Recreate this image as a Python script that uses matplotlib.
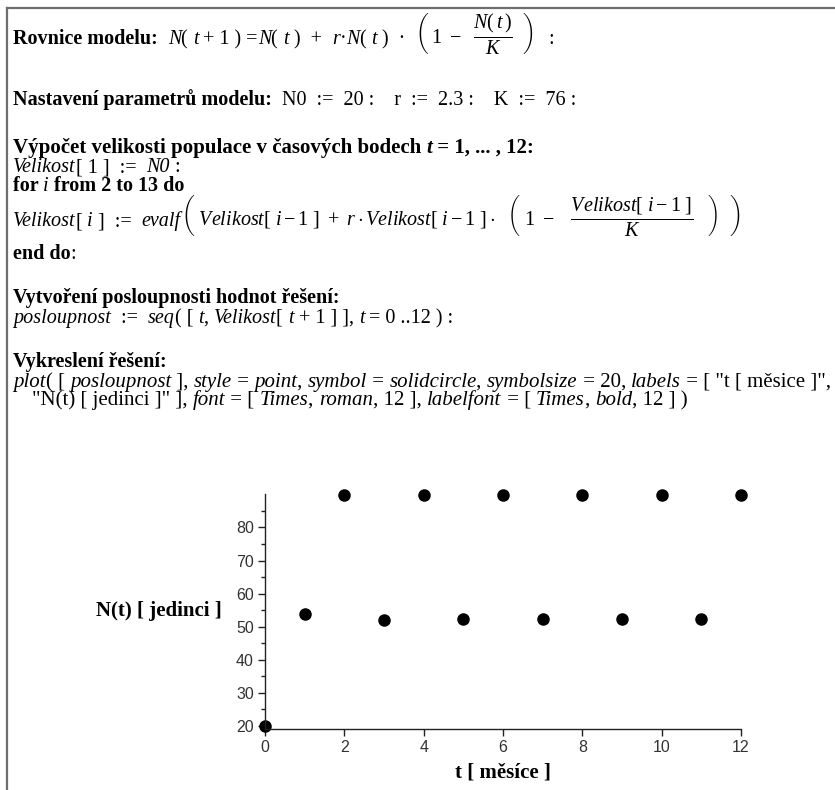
import matplotlib
matplotlib.use('Agg')
import matplotlib.pyplot as plt
from matplotlib.lines import Line2D

# data
t_months = [0, 1, 2, 3, 4, 5, 6, 7, 8, 9, 10, 11, 12]
n_pop = [20, 53.9, 89.9, 52.0, 89.9, 52.4, 89.9, 52.4, 89.9, 52.4, 89.9, 52.4, 89.9]
x_ticks = [0, 2, 4, 6, 8, 10, 12]
y_ticks = [20, 30, 40, 50, 60, 70, 80]
x_label = "t [ měsíce ]"
y_label = "N(t) [ jedinci ]"

SERIF = 'Liberation Serif'
plt.rcParams['mathtext.fontset'] = 'custom'
plt.rcParams['mathtext.rm'] = 'Liberation Serif'
plt.rcParams['mathtext.it'] = 'Liberation Serif:italic'
plt.rcParams['mathtext.bf'] = 'Liberation Serif:bold'

W, H = 835, 790
fig = plt.figure(figsize=(W / 100, H / 100), dpi=100)
rend = fig.canvas.get_renderer()

STYLES = {
    'b': dict(family=SERIF, weight='bold'),
    'i': dict(family=SERIF, style='italic'),
    'r': dict(family=SERIF),
    'bi': dict(family=SERIF, weight='bold', style='italic'),
    'm': dict(family=SERIF),
}
FS = 14.5


def advance(txt, st, size):
    # width incl. trailing spaces (measure against a sentinel char)
    t = fig.text(0, 0, txt + '|', fontsize=size, **STYLES[st])
    w1 = t.get_window_extent(rend).width
    t.set_text('|')
    w2 = t.get_window_extent(rend).width
    t.remove()
    return w1 - w2


def line(x, y, pieces, size=FS):
    for txt, st in pieces:
        t = fig.text(x / W, 1 - y / H, txt, fontsize=size, va='baseline',
                     ha='left', color='black', **STYLES[st])
        if st == 'm':
            x += t.get_window_extent(rend).width
        else:
            x += advance(txt, st, size)


# worksheet text
line(13, 44, [("Rovnice modelu:  ", 'b'),
              ("N", 'i'), ("( ", 'r'), ("t", 'i'), (" + 1 ) =", 'r'), ("N", 'i'), ("( ", 'r'),
              ("t", 'i'), (" )  +  ", 'r'), ("r", 'i'), ("·", 'r'), ("N", 'i'), ("( ", 'r'),
              ("t", 'i'), (" )  ·  ", 'r'),
              (r"$\left(\;1\ -\ \ \dfrac{N(\,t\,)}{K}\ \;\right)$", 'm'), ("   :", 'r')])
line(13, 105, [("Nastavení parametrů modelu:  ", 'b'),
               ("N0  :=  20 :    r  :=  2.3 :    K  :=  76 :", 'r')])
line(13, 153, [("Výpočet velikosti populace v časových bodech ", 'b'), ("t", 'bi'),
               (" = 1, ... , 12:", 'b')], size=15)
line(13, 172, [("Velikost", 'i'), ("[ 1 ]  :=  ", 'r'), ("N0", 'i'), (" :", 'r')])
line(13, 191, [("for ", 'b'), ("i", 'i'), (" from 2 to 13 do", 'b')])
line(13, 226, [("Velikost", 'i'), ("[ ", 'r'), ("i", 'i'), (" ]  :=  ", 'r'), ("evalf", 'i'),
               (r"$\left(\ \mathit{Velikost}[\ i-1\ ]\ +\ r\cdot\mathit{Velikost}[\ i-1\ ]\cdot\ \ \left(\ 1\ -\ \ \ \dfrac{\mathit{Velikost}[\ i-1\ ]}{K}\ \ \;\right)\ \ \right)$", 'm')])
line(13, 259, [("end do", 'b'), (":", 'r')])
line(13, 303, [("Vytvoření posloupnosti hodnot řešení:", 'b')])
line(13, 323, [("posloupnost", 'i'), ("  :=  ", 'r'), ("seq", 'i'), ("( [ ", 'r'), ("t", 'i'),
               (", ", 'r'), ("Velikost", 'i'), ("[ ", 'r'), ("t", 'i'), (" + 1 ] ], ", 'r'),
               ("t", 'i'), (" = 0 ..12 ) :", 'r')])
line(13, 367, [("Vykreslení řešení:", 'b')])
line(13, 387, [("plot", 'i'), ("( [ ", 'r'), ("posloupnost", 'i'), (" ], ", 'r'), ("style", 'i'),
               (" = ", 'r'), ("point", 'i'), (", ", 'r'), ("symbol", 'i'), (" = ", 'r'),
               ("solidcircle", 'i'), (", ", 'r'), ("symbolsize", 'i'), (" = 20, ", 'r'),
               ("labels", 'i'), (' = [ "t [ měsice ]",', 'r')], size=15)
line(32, 405, [('"N(t) [ jedinci ]" ], ', 'r'), ("font", 'i'), (" = [ ", 'r'), ("Times", 'i'),
               (", ", 'r'), ("roman", 'i'), (", 12 ], ", 'r'), ("labelfont", 'i'), (" = [ ", 'r'),
               ("Times", 'i'), (", ", 'r'), ("bold", 'i'), (", 12 ] )", 'r')], size=15)

# worksheet border (top + left)
fig.add_artist(Line2D([7 / W, 1], [1 - 8 / H, 1 - 8 / H], transform=fig.transFigure,
                      color='#6e6e6e', lw=1.6))
fig.add_artist(Line2D([7 / W, 7 / W], [0, 1 - 8 / H], transform=fig.transFigure,
                      color='#6e6e6e', lw=1.6))

# the plot itself
ax = fig.add_axes([265 / W, (H - 729) / H, 476 / W, 235 / H])
ax.plot(t_months, n_pop, 'o', color='black', markersize=8, clip_on=False)
ax.set_xlim(0, 12)
ax.set_ylim(19.1, 90.1)
ax.set_xticks(x_ticks)
ax.set_yticks(y_ticks)
ax.set_yticks([25, 35, 45, 55, 65, 75, 85], minor=True)
for s in ['top', 'right']:
    ax.spines[s].set_visible(False)
for s in ['left', 'bottom']:
    ax.spines[s].set_color('#222222')
    ax.spines[s].set_linewidth(1.0)
ax.tick_params(which='major', length=5, width=1, color='#222222', labelcolor='#333333',
               labelsize=11.5, pad=3)
ax.tick_params(which='minor', length=3, width=1, color='#222222')
for lab in ax.get_xticklabels() + ax.get_yticklabels():
    lab.set_fontfamily('Liberation Sans')

fig.text(222 / W, 1 - 611 / H, y_label, ha='right', va='center', fontsize=15,
         family=SERIF, weight='bold')
fig.text(503 / W, 1 - 773 / H, x_label, ha='center', va='center', fontsize=15,
         family=SERIF, weight='bold')

fig.savefig('out.png', dpi=100)
